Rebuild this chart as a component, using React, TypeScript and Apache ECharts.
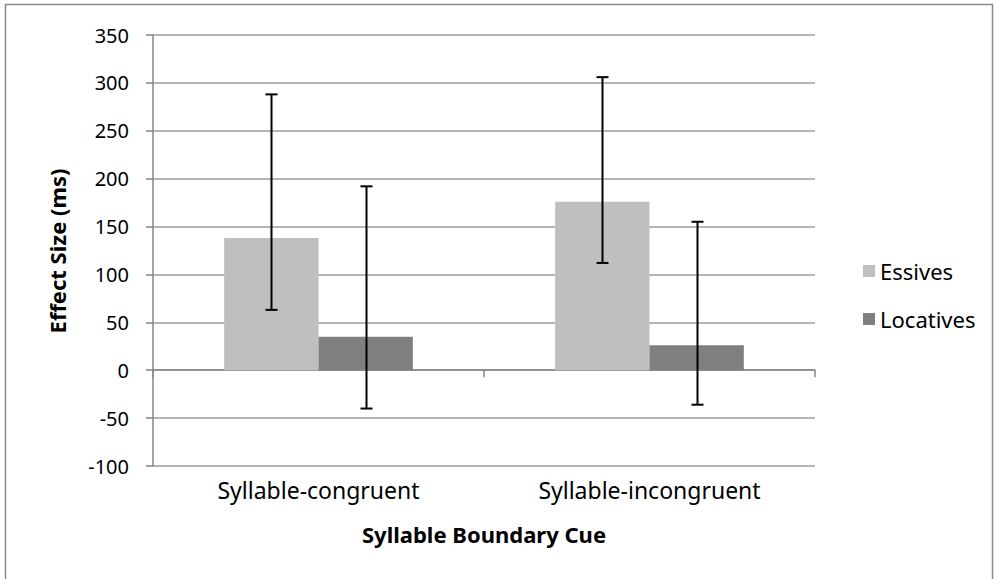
import React, { useEffect, useRef } from "react";
import * as echarts from "echarts";

const categories = ["Syllable-congruent", "Syllable-incongruent"];
const essives = [138, 176];
const locatives = [35, 26];
const essivesLow = [63, 112];
const essivesHigh = [288, 306];
const locativesLow = [-40, -36];
const locativesHigh = [192, 155];
const yTicks = { min: -100, max: 350, interval: 50 };

const FONT = "'Noto Sans', 'Open Sans', sans-serif";
const BAR_FRAC = 0.285;

function errorSeries(name: string, lows: number[], highs: number[], offset: number) {
  return {
    name,
    type: "custom",
    z: 5,
    silent: true,
    data: lows.map((lo, i) => [i, lo, highs[i]]),
    encode: { x: 0, y: [1, 2] },
    renderItem: (params: any, api: any) => {
      const cat = api.value(0);
      const lo = api.value(1);
      const hi = api.value(2);
      const c = api.coord([cat, 0]);
      const bw = api.size([1, 0])[0] * BAR_FRAC;
      const x = Math.round(c[0] + (offset * bw) / 2) + 0.5;
      const yLo = api.coord([cat, lo])[1];
      const yHi = api.coord([cat, hi])[1];
      const cap = 6;
      const style = { stroke: "#000", lineWidth: 2 };
      return {
        type: "group",
        children: [
          { type: "line", shape: { x1: x, y1: yLo, x2: x, y2: yHi }, style },
          { type: "line", shape: { x1: x - cap, y1: yLo, x2: x + cap, y2: yLo }, style },
          { type: "line", shape: { x1: x - cap, y1: yHi, x2: x + cap, y2: yHi }, style },
        ],
      };
    },
  };
}

export default function App() {
  const ref = useRef<HTMLDivElement>(null);
  useEffect(() => {
    if (!ref.current) return;
    const chart = echarts.init(ref.current, undefined, { renderer: "svg" });
    const axisGray = "#868686";
    chart.setOption({
      animation: false,
      backgroundColor: "#fff",
      textStyle: { fontFamily: FONT },
      grid: { left: 153, top: 35, right: 179, bottom: 113, containLabel: false },
      legend: {
        data: ["Essives", "Locatives"],
        orient: "vertical",
        left: 858,
        top: 255,
        itemWidth: 12,
        itemHeight: 12,
        itemGap: 26,
        icon: "rect",
        textStyle: { fontFamily: FONT, fontSize: 22, color: "#000" },
      },
      xAxis: [
        {
          type: "category",
          data: categories,
          axisLine: { show: false, onZero: false },
          axisTick: { show: false },
          axisLabel: { fontFamily: FONT, fontSize: 23, color: "#000", margin: 12 },
          splitLine: { show: false },
        },
        {
          type: "category",
          data: categories,
          position: "bottom",
          axisLine: { show: true, onZero: true, onZeroAxisIndex: 0, lineStyle: { color: axisGray, width: 1.5 } },
          axisTick: { show: true, length: 7, interval: 0, lineStyle: { color: axisGray, width: 1.5 } },
          axisLabel: { show: false },
          splitLine: { show: false },
        },
      ],
      yAxis: {
        type: "value",
        min: yTicks.min,
        max: yTicks.max,
        interval: yTicks.interval,
        axisLine: { show: true, lineStyle: { color: axisGray, width: 1.5 } },
        axisTick: { show: true, length: 7, lineStyle: { color: axisGray, width: 1.5 } },
        axisLabel: { fontFamily: FONT, fontSize: 20, color: "#000", margin: 24 },
        splitLine: { show: true, lineStyle: { color: "#9d9d9d", width: 1.5 } },
      },
      graphic: [
        {
          type: "rect",
          shape: { x: 5.5, y: 4.5, width: 987, height: 640 },
          style: { fill: "none", stroke: "#8a8a8a", lineWidth: 1.5 },
          silent: true,
          z: 100,
        },
        {
          type: "text",
          x: 57,
          y: 251,
          rotation: Math.PI / 2,
          style: {
            text: "Effect Size (ms)",
            fontFamily: FONT,
            fontSize: 22,
            fontWeight: "bold",
            fill: "#000",
            align: "center",
            verticalAlign: "middle",
          },
        },
        {
          type: "text",
          x: 484,
          y: 534,
          style: {
            text: "Syllable Boundary Cue",
            fontFamily: FONT,
            fontSize: 22,
            fontWeight: "bold",
            fill: "#000",
            align: "center",
            verticalAlign: "middle",
          },
        },
      ],
      series: [
        {
          name: "Essives",
          type: "bar",
          xAxisIndex: 0,
          data: essives,
          barWidth: BAR_FRAC * 100 + "%",
          barGap: "0%",
          itemStyle: { color: "#BFBFBF" },
        },
        {
          name: "Locatives",
          type: "bar",
          xAxisIndex: 0,
          data: locatives,
          barWidth: BAR_FRAC * 100 + "%",
          barGap: "0%",
          itemStyle: { color: "#7F7F7F" },
        },
        errorSeries("Essives error", essivesLow, essivesHigh, -1),
        errorSeries("Locatives error", locativesLow, locativesHigh, 1),
      ],
    });
    return () => chart.dispose();
  }, []);
  return <div ref={ref} style={{ width: 994, height: 579, position: "fixed", left: 0, top: 0 }} />;
}
